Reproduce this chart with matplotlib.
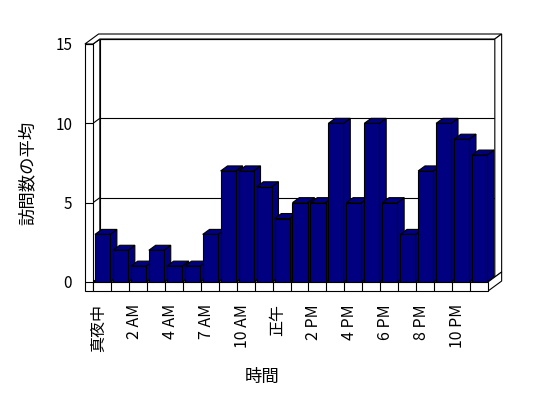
import matplotlib
matplotlib.use('Agg')
import matplotlib.pyplot as plt
from matplotlib.patches import Polygon

plt.rcParams['font.family'] = ['Noto Sans CJK JP', 'DejaVu Sans']

# data
hours = ['真夜中', '1 AM', '2 AM', '3 AM', '4 AM', '5 AM', '7 AM', '8 AM',
         '10 AM', '11 AM', '正午', '1 PM', '2 PM', '3 PM', '4 PM', '5 PM',
         '6 PM', '7 PM', '8 PM', '9 PM', '10 PM', '11 PM']
visits = [3, 2, 1, 2, 1, 1, 3, 7, 7, 6, 4, 5, 5, 10, 5, 10, 5, 3, 7, 10, 9, 8]
y_ticks = [0, 5, 10, 15]

BAR_COLOR = '#000080'
DX, DY = 0.38, 0.315   # oblique depth offset (data units)
WALL = 0.45            # left wall thickness
FLOOR = 0.57           # floor thickness
LW = 0.8

n = len(visits)
ymax = y_ticks[-1]

fig = plt.figure(figsize=(5.48, 3.98), dpi=100)
ax = fig.add_axes([93 / 548, 116 / 398, 395 / 548, 238 / 398])
ax.set_xlim(0, n)
ax.set_ylim(0, ymax)
ax.patch.set_visible(False)
for s in ax.spines.values():
    s.set_visible(False)


def poly(pts, fc='white', z=1):
    ax.add_patch(Polygon(pts, closed=True, facecolor=fc, edgecolor='black',
                         lw=LW, clip_on=False, zorder=z, joinstyle='miter'))


def line(xs, ys, z):
    ax.plot(xs, ys, color='black', lw=LW, clip_on=False, zorder=z,
            solid_capstyle='butt')


# back wall, inner face
poly([(DX, DY), (n + DX, DY), (n + DX, ymax + DY), (DX, ymax + DY)], z=1)
# left wall, inner face
poly([(0, 0), (0, ymax), (DX, ymax + DY), (DX, DY)], z=1.5)

# gridlines
for v in y_ticks:
    line([DX, n + DX], [v + DY, v + DY], 2)
    line([0, DX], [v, v + DY], 2.5)

# floor top with dividers
poly([(0, 0), (n, 0), (n + DX, DY), (DX, DY)], z=3)
for i in range(1, n):
    line([i, i + DX], [0, DY], 3.1)

# bars, left to right so each front face covers the previous side
for i, v in enumerate(visits):
    x0, x1 = i + 0.11, i + 0.95
    z = 4 + i * 0.01
    poly([(x1, 0), (x1, v), (x1 + DX, v + DY), (x1 + DX, DY)], BAR_COLOR, z)
    poly([(x0, v), (x1, v), (x1 + DX, v + DY), (x0 + DX, v + DY)], BAR_COLOR, z)
    poly([(x0, 0), (x1, 0), (x1, v), (x0, v)], BAR_COLOR, z)

# walls and floor outer faces
poly([(-WALL, ymax), (0, ymax), (DX, ymax + DY), (n + DX, ymax + DY),
      (n + 2 * DX, ymax + 2 * DY), (-WALL + 2 * DX, ymax + 2 * DY)], z=6)
poly([(n + DX, DY), (n + DX, ymax + DY), (n + 2 * DX, ymax + 2 * DY),
      (n + 2 * DX, 2 * DY)], z=6)
poly([(n, -FLOOR), (n, 0), (n + 2 * DX, 2 * DY), (n + 2 * DX, 2 * DY - FLOOR)], z=6)
poly([(-WALL, -FLOOR), (0, -FLOOR), (0, ymax), (-WALL, ymax)], z=6)
poly([(0, -FLOOR), (n, -FLOOR), (n, 0), (0, 0)], z=6)
for i in range(1, n):
    line([i, i], [-FLOOR, 0], 6.1)
for v in y_ticks:
    line([-WALL, 0], [v, v], 6.2)

# axes ticks and labels
ax.set_yticks(y_ticks)
ax.set_yticklabels([str(v) for v in y_ticks])
ax.set_xticks([i + 0.3 for i in range(0, n, 2)])
ax.set_xticklabels(hours[::2], rotation=90)
ax.tick_params(axis='y', length=0, pad=15, labelsize=11)
ax.tick_params(axis='x', length=0, pad=16, labelsize=11.5)

fig.text(28 / 548, 1 - 173 / 398, '訪問数の平均', rotation=90,
         ha='center', va='center', fontsize=12.5)
fig.text(262 / 548, 1 - 377 / 398, '時間', ha='center', va='center',
         fontsize=12.5)

fig.savefig('out.png', dpi=100)
